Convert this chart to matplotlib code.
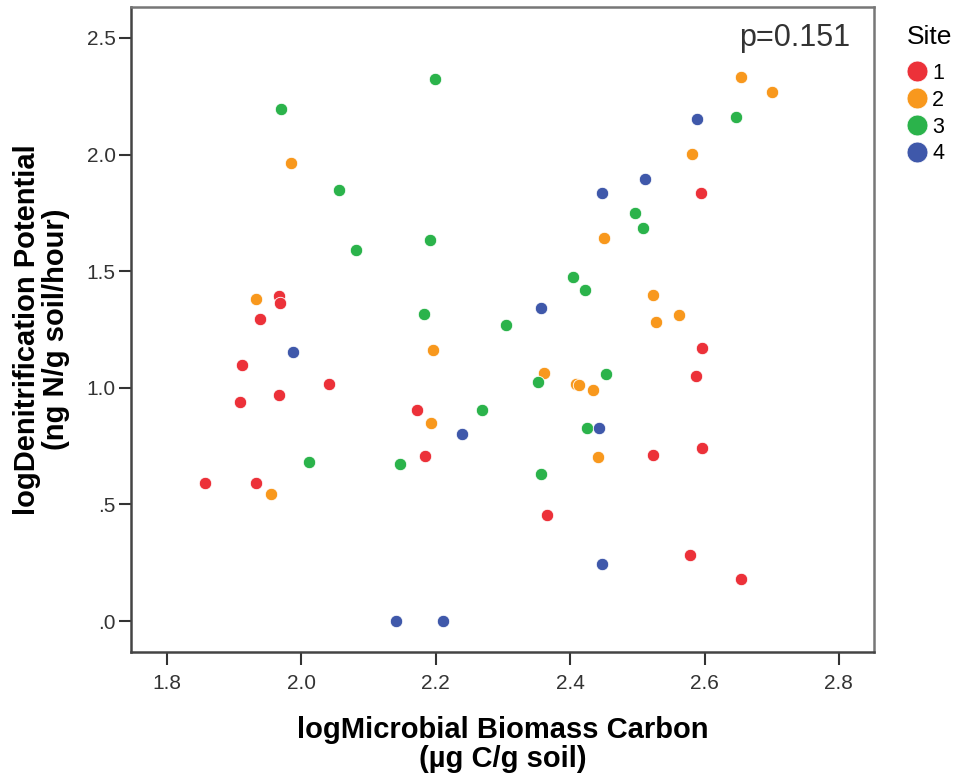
import matplotlib.pyplot as plt
from matplotlib.lines import Line2D
from matplotlib.ticker import FixedLocator, FixedFormatter

plt.rcParams['font.family'] = ['Liberation Sans', 'DejaVu Sans']

# site -> (logMBC, logDenitrification)
site1_x = [1.856, 1.912, 1.909, 1.932, 1.967, 1.938, 1.967, 1.968, 2.041, 2.172,
           2.184, 2.365, 2.595, 2.596, 2.587, 2.523, 2.596, 2.578, 2.655]
site1_y = [0.592, 1.096, 0.939, 0.592, 0.969, 1.294, 1.393, 1.362, 1.016, 0.904,
           0.706, 0.456, 1.837, 1.172, 1.050, 0.712, 0.742, 0.282, 0.181]

site2_x = [1.932, 1.984, 1.955, 2.196, 2.193, 2.451, 2.361, 2.408, 2.413, 2.434,
           2.441, 2.581, 2.654, 2.700, 2.524, 2.528, 2.562]
site2_y = [1.379, 1.962, 0.546, 1.162, 0.849, 1.640, 1.062, 1.018, 1.014, 0.990,
           0.702, 2.003, 2.333, 2.269, 1.397, 1.282, 1.310]

site3_x = [1.970, 2.011, 2.056, 2.081, 2.199, 2.191, 2.182, 2.304, 2.404, 2.422,
           2.147, 2.268, 2.352, 2.454, 2.425, 2.357, 2.497, 2.508, 2.647]
site3_y = [2.193, 0.684, 1.847, 1.590, 2.324, 1.632, 1.315, 1.269, 1.476, 1.419,
           0.673, 0.907, 1.026, 1.060, 0.829, 0.630, 1.750, 1.683, 2.160]

site4_x = [1.988, 2.140, 2.210, 2.239, 2.356, 2.447, 2.443, 2.447, 2.511, 2.589]
site4_y = [1.152, 0.000, 0.000, 0.800, 1.343, 1.837, 0.826, 0.244, 1.895, 2.152]

sites = ['1', '2', '3', '4']
colors = ['#EC3139', '#F8981D', '#2BB34B', '#3F58AA']
xs = [site1_x, site2_x, site3_x, site4_x]
ys = [site1_y, site2_y, site3_y, site4_y]

fig = plt.figure(figsize=(9.55, 7.82), dpi=100)
ax = fig.add_axes([0.137, 0.166, 0.778, 0.825])

for x, y, c in zip(xs, ys, colors):
    ax.scatter(x, y, s=80, color=c, edgecolors='white', linewidths=0.6, zorder=3)

ax.set_xlim(1.746, 2.852)
ax.set_ylim(-0.133, 2.632)

ax.xaxis.set_major_locator(FixedLocator([1.8, 2.0, 2.2, 2.4, 2.6, 2.8]))
ax.xaxis.set_major_formatter(FixedFormatter(['1.8', '2.0', '2.2', '2.4', '2.6', '2.8']))
ax.yaxis.set_major_locator(FixedLocator([0, 0.5, 1.0, 1.5, 2.0, 2.5]))
ax.yaxis.set_major_formatter(FixedFormatter(['.0', '.5', '1.0', '1.5', '2.0', '2.5']))
ax.tick_params(direction='out', length=9, width=1.5, color='#333333',
               labelsize=15, labelcolor='#333333')
ax.tick_params(axis='x', pad=7)
ax.tick_params(axis='y', pad=2)

for side in ['left', 'bottom', 'right', 'top']:
    ax.spines[side].set_linewidth(1.8)
    ax.spines[side].set_color('#444444')
ax.spines['top'].set_color('#777777')
ax.spines['right'].set_color('#777777')

ax.set_xlabel('logMicrobial Biomass Carbon\n(\u00b5g C/g soil)', fontsize=21,
              fontweight='bold', labelpad=16, linespacing=1.05)
ax.set_ylabel('logDenitrification Potential\n(ng N/g soil/hour)', fontsize=21,
              fontweight='bold', labelpad=12, linespacing=1.05)

ax.text(0.968, 0.975, 'p=0.151', transform=ax.transAxes, ha='right', va='top',
        fontsize=22, color='#333333')

handles = [Line2D([], [], marker='o', linestyle='', markersize=15, color=c,
                  markeredgecolor='white', markeredgewidth=0.5) for c in colors]
leg = ax.legend(handles, sites, title='Site', loc='upper left',
                bbox_to_anchor=(1.044, 0.972), frameon=False, fontsize=15.5,
                title_fontsize=19, handletextpad=0.2, labelspacing=0.27,
                handlelength=1.0, borderaxespad=0, borderpad=0)
leg._legend_box.align = 'left'
leg._legend_box.sep = 10

fig.savefig('out.png', dpi=100)
